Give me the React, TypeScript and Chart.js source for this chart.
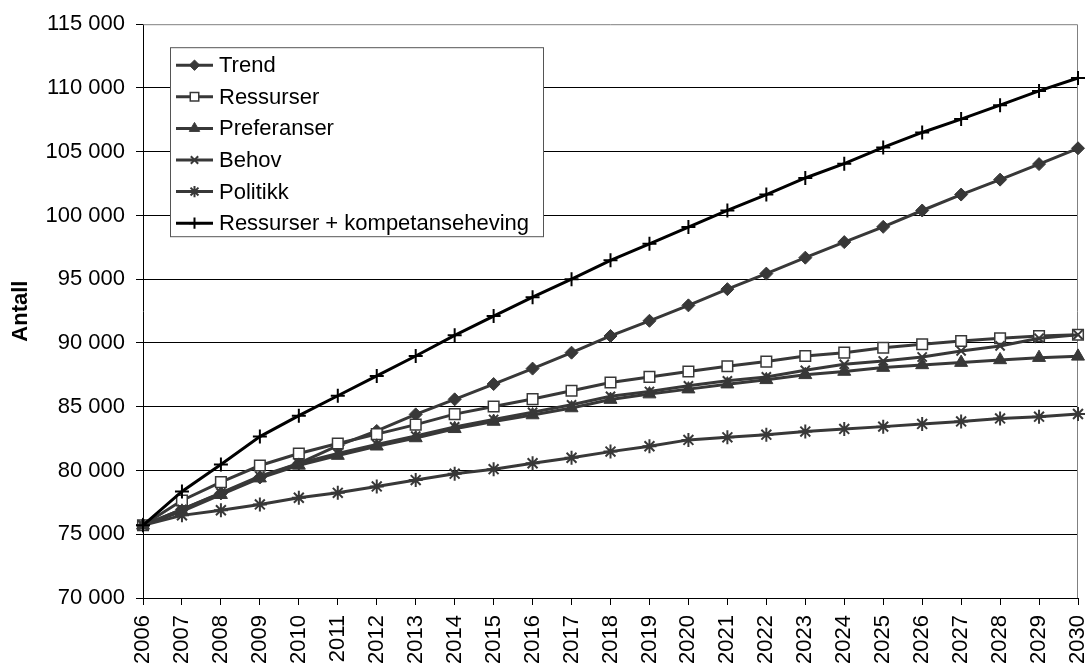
import React, { useEffect, useRef } from 'react';
import { Chart, registerables } from 'chart.js';
import { drawPoint } from 'chart.js/helpers';

Chart.register(...registerables);

const years = ['2006','2007','2008','2009','2010','2011','2012','2013','2014','2015','2016','2017','2018','2019','2020','2021','2022','2023','2024','2025','2026','2027','2028','2029','2030'];

const trend = [75700, 76950, 78200, 79450, 80550, 81950, 83100, 84400, 85580, 86780, 87990, 89240, 90550, 91740, 92950, 94220, 95440, 96690, 97910, 99110, 100390, 101640, 102810, 104030, 105270];
const ressurser = [75700, 77650, 79090, 80390, 81330, 82120, 82850, 83600, 84420, 85020, 85600, 86250, 86900, 87340, 87760, 88180, 88540, 88980, 89240, 89630, 89900, 90160, 90370, 90550, 90650];
const preferanser = [75700, 76800, 78100, 79400, 80400, 81170, 81900, 82550, 83270, 83840, 84350, 84900, 85560, 85990, 86380, 86770, 87110, 87500, 87760, 88070, 88280, 88460, 88670, 88850, 88950];
const behov = [75700, 76950, 78250, 79550, 80550, 81330, 82050, 82700, 83420, 84000, 84560, 85150, 85820, 86200, 86640, 87030, 87340, 87860, 88330, 88590, 88900, 89375, 89770, 90370, 90650];
const politikk = [75700, 76480, 76880, 77340, 77860, 78250, 78750, 79250, 79750, 80100, 80570, 81000, 81480, 81900, 82400, 82600, 82810, 83050, 83260, 83440, 83650, 83850, 84080, 84220, 84430];
const kompetanse = [75700, 78360, 80470, 82660, 84300, 85860, 87420, 88980, 90600, 92110, 93590, 95000, 96480, 97780, 99090, 100390, 101640, 102940, 104060, 105340, 106510, 107560, 108650, 109770, 110780];

const seriesNames = ['Trend', 'Ressurser', 'Preferanser', 'Behov', 'Politikk', 'Ressurser + kompetanseheving'];
const seriesValues = [trend, ressurser, preferanser, behov, politikk, kompetanse];

const yMin = 70000;
const yMax = 115000;
const yStep = 5000;
const yTitle = 'Antall';

const GRAY = '#383838';
const FONT = '"Liberation Sans", Arial, sans-serif';

const styles = [
  { color: GRAY, pointStyle: 'rectRot', radius: 6.5, fill: GRAY, pbw: 1 },
  { color: GRAY, pointStyle: 'rect', radius: 7.5, fill: '#ffffff', pbw: 1.5 },
  { color: GRAY, pointStyle: 'triangle', radius: 7.5, fill: GRAY, pbw: 1 },
  { color: GRAY, pointStyle: 'crossRot', radius: 6.5, fill: GRAY, pbw: 2 },
  { color: GRAY, pointStyle: 'star', radius: 7, fill: GRAY, pbw: 2 },
  { color: '#000000', pointStyle: 'cross', radius: 7, fill: '#000000', pbw: 2 },
];

const fmt = (v: number) => String(v).replace(/\B(?=(\d{3})+(?!\d))/g, ' ');

const frameLegendPlugin = {
  id: 'frameLegend',
  beforeDatasetsDraw(chart: any) {
    const { ctx, chartArea } = chart;
    ctx.save();
    ctx.strokeStyle = '#808080';
    ctx.lineWidth = 1;
    ctx.beginPath();
    ctx.moveTo(chartArea.left, chartArea.top + 0.5);
    ctx.lineTo(chartArea.right - 0.5, chartArea.top + 0.5);
    ctx.lineTo(chartArea.right - 0.5, chartArea.bottom);
    ctx.stroke();
    ctx.restore();
  },
  afterDraw(chart: any) {
    const { ctx, chartArea } = chart;
    const left = chartArea.left + 27;
    const top = chartArea.top + 23;
    const w = 373;
    const rowH = 31.6;
    const h = 189;
    ctx.save();
    ctx.fillStyle = '#ffffff';
    ctx.fillRect(left, top, w, h);
    ctx.strokeStyle = '#555555';
    ctx.lineWidth = 1;
    ctx.strokeRect(left + 0.5, top + 0.5, w, h);
    ctx.font = `22px ${FONT}`;
    ctx.textBaseline = 'middle';
    ctx.textAlign = 'left';
    seriesNames.forEach((name, i) => {
      const s = styles[i];
      const y = top + 18 + i * rowH;
      ctx.strokeStyle = s.color;
      ctx.lineWidth = 3;
      ctx.beginPath();
      ctx.moveTo(left + 6, y);
      ctx.lineTo(left + 43, y);
      ctx.stroke();
      ctx.fillStyle = s.fill;
      ctx.strokeStyle = s.color;
      ctx.lineWidth = s.pbw;
      drawPoint(ctx, { pointStyle: s.pointStyle, radius: s.radius * 0.8, rotation: 0, borderWidth: s.pbw } as any, left + 24.5, y);
      ctx.fillStyle = '#000000';
      ctx.fillText(name, left + 49, y + 1);
    });
    ctx.restore();
  },
};

export default function App() {
  const canvasRef = useRef<HTMLCanvasElement | null>(null);

  useEffect(() => {
    const canvas = canvasRef.current;
    if (!canvas) return;
    const datasets = seriesNames.map((name, i) => {
      const s = styles[i];
      return {
        label: name,
        data: seriesValues[i],
        borderColor: s.color,
        backgroundColor: s.fill,
        borderWidth: 3,
        pointStyle: s.pointStyle as any,
        pointRadius: s.radius,
        pointHoverRadius: s.radius,
        pointBackgroundColor: s.fill,
        pointBorderColor: s.color,
        pointBorderWidth: s.pbw,
        tension: 0,
        fill: false,
        order: seriesNames.length - i,
      };
    });
    const chart = new Chart(canvas, {
      type: 'line',
      data: { labels: years, datasets },
      plugins: [frameLegendPlugin],
      options: {
        animation: false,
        responsive: true,
        maintainAspectRatio: false,
        layout: { padding: { top: 22, right: 10, left: 0, bottom: 0 } },
        plugins: {
          legend: { display: false },
          tooltip: { enabled: false },
        },
        scales: {
          x: {
            type: 'category',
            offset: false,
            grid: {
              drawOnChartArea: false,
              drawTicks: true,
              tickLength: 7,
              tickColor: '#000000',
            },
            border: { display: true, color: '#000000', width: 1 },
            ticks: {
              autoSkip: false,
              minRotation: 90,
              maxRotation: 90,
              padding: 10,
              color: '#000000',
              font: { family: FONT, size: 22 },
            },
            afterFit(scale: any) {
              scale.height = 68;
              scale.paddingLeft = 0;
              scale.paddingRight = 0;
            },
          },
          y: {
            min: yMin,
            max: yMax,
            grid: {
              color: (c: any) => (c.tick && c.tick.value === yMax ? 'rgba(0,0,0,0)' : '#000000'),
              tickColor: '#000000',
              tickLength: 7,
              lineWidth: 1,
            },
            border: { display: true, color: '#000000', width: 1 },
            ticks: {
              stepSize: yStep,
              padding: 11,
              color: '#000000',
              font: { family: FONT, size: 22 },
              callback: (v: any) => fmt(Number(v)),
            },
            title: {
              display: true,
              text: yTitle,
              color: '#000000',
              font: { family: FONT, size: 22, weight: 'bold' },
              padding: { top: 8, bottom: 0 },
            },
            afterFit(scale: any) {
              scale.width = 143;
            },
          },
        },
      },
    });
    return () => chart.destroy();
  }, []);

  return (
    <div style={{ position: 'fixed', left: 0, top: 0, width: 1088, height: 666, background: '#ffffff' }}>
      <canvas ref={canvasRef} />
    </div>
  );
}
